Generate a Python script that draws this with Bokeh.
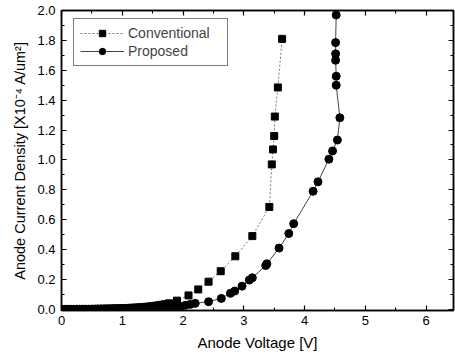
from bokeh.plotting import figure
from bokeh.models import Range1d, LinearAxis, NumeralTickFormatter, FixedTicker, Legend
from bokeh.embed import file_html
from bokeh.resources import INLINE

# Conventional device (squares)
conv_v = [0.05, 0.10, 0.15, 0.20, 0.25, 0.30, 0.35, 0.40, 0.45, 0.50,
          0.55, 0.60, 0.65, 0.70, 0.75, 0.80, 0.85, 0.90, 0.95, 1.00,
          1.05, 1.10, 1.15, 1.20, 1.25, 1.30, 1.35, 1.40, 1.45, 1.50,
          1.55, 1.60, 1.65, 1.70, 1.77, 1.90, 2.09, 2.25, 2.42, 2.62,
          2.86, 3.14, 3.42, 3.46, 3.48, 3.50, 3.51, 3.56, 3.63]
conv_j = [0.000, 0.000, 0.001, 0.001, 0.001, 0.001, 0.002, 0.002, 0.002, 0.002,
          0.003, 0.003, 0.003, 0.004, 0.004, 0.005, 0.005, 0.006, 0.006, 0.007,
          0.008, 0.009, 0.010, 0.011, 0.012, 0.014, 0.015, 0.017, 0.019, 0.021,
          0.024, 0.027, 0.030, 0.034, 0.040, 0.058, 0.093, 0.133, 0.185, 0.255,
          0.355, 0.490, 0.685, 0.970, 1.070, 1.160, 1.290, 1.485, 1.810]

# Proposed device (circles)
prop_v = [0.05, 0.10, 0.15, 0.20, 0.25, 0.30, 0.35, 0.40, 0.45, 0.50,
          0.55, 0.60, 0.65, 0.70, 0.75, 0.80, 0.85, 0.90, 0.95, 1.00,
          1.05, 1.10, 1.15, 1.20, 1.25, 1.30, 1.35, 1.40, 1.45, 1.50,
          1.55, 1.60, 1.65, 1.70, 1.75, 1.80, 1.85, 1.90, 1.95, 2.04,
          2.12, 2.20, 2.42, 2.63, 2.78, 2.85, 2.97, 3.09, 3.14, 3.36,
          3.38, 3.58, 3.74, 3.82, 4.14, 4.22, 4.40, 4.46, 4.54, 4.58,
          4.52, 4.52, 4.51, 4.51, 4.51, 4.52]
prop_j = [0.000, 0.000, 0.000, 0.000, 0.001, 0.001, 0.001, 0.001, 0.001, 0.001,
          0.001, 0.002, 0.002, 0.002, 0.002, 0.002, 0.003, 0.003, 0.003, 0.003,
          0.004, 0.004, 0.004, 0.005, 0.005, 0.006, 0.006, 0.007, 0.007, 0.008,
          0.009, 0.010, 0.011, 0.012, 0.013, 0.014, 0.016, 0.018, 0.020, 0.027,
          0.033, 0.040, 0.051, 0.073, 0.107, 0.122, 0.155, 0.196, 0.211, 0.293,
          0.305, 0.410, 0.507, 0.573, 0.790, 0.853, 1.005, 1.060, 1.133, 1.282,
          1.500, 1.560, 1.667, 1.710, 1.785, 1.970]

x_ticks = [0, 1, 2, 3, 4, 5, 6]
y_ticks = [0.0, 0.2, 0.4, 0.6, 0.8, 1.0, 1.2, 1.4, 1.6, 1.8, 2.0]
x_minor = [0.5, 1.5, 2.5, 3.5, 4.5, 5.5]
y_minor = [0.1, 0.3, 0.5, 0.7, 0.9, 1.1, 1.3, 1.5, 1.7, 1.9]

FONT = "Liberation Sans"

p = figure(width=455, height=358, output_backend="svg", toolbar_location=None,
           x_range=Range1d(0, 6.45), y_range=Range1d(-0.008, 2.0),
           min_border_left=61, min_border_right=2, min_border_top=10, min_border_bottom=48)
p.xaxis.visible = False
p.yaxis.visible = False
p.grid.visible = False
p.outline_line_color = "black"
p.outline_line_width = 1.5

def style_axis(ax, labels=True):
    ax.axis_line_color = "black"
    ax.axis_line_width = 1.5
    ax.major_tick_in = 5
    ax.major_tick_out = 0
    ax.minor_tick_in = 3
    ax.minor_tick_out = 0
    ax.major_tick_line_color = "black"
    ax.minor_tick_line_color = "black"
    ax.major_tick_line_width = 1.2
    ax.minor_tick_line_width = 1
    ax.major_label_text_font = FONT
    ax.major_label_text_font_size = "13px" if labels else "0px"
    ax.major_label_text_color = "black"
    ax.axis_label_text_font = FONT
    ax.axis_label_text_font_size = "15px"
    ax.axis_label_text_font_style = "normal"
    ax.axis_label_text_color = "black"

xb = LinearAxis(ticker=FixedTicker(ticks=x_ticks, minor_ticks=x_minor),
                axis_label="Anode Voltage [V]")
style_axis(xb)
xb.major_label_standoff = 5
xb.axis_label_standoff = 6
p.add_layout(xb, "below")

yl = LinearAxis(ticker=FixedTicker(ticks=y_ticks, minor_ticks=y_minor),
                axis_label="Anode Current Density [X10\u207b\u2074 A/um\u00b2]",
                formatter=NumeralTickFormatter(format="0.0"))
style_axis(yl)
yl.axis_label_text_font_size = "14.5px"
yl.major_label_standoff = 6
yl.axis_label_standoff = 6
p.add_layout(yl, "left")

xt = LinearAxis(ticker=FixedTicker(ticks=x_ticks, minor_ticks=x_minor))
style_axis(xt, labels=False)
xt.major_label_standoff = 0
p.add_layout(xt, "above")

yr = LinearAxis(ticker=FixedTicker(ticks=y_ticks, minor_ticks=y_minor))
style_axis(yr, labels=False)
yr.major_label_standoff = 0
p.add_layout(yr, "right")

l1 = p.line(conv_v, conv_j, line_color="#777777", line_width=1, line_dash="2 2")
m1 = p.scatter(conv_v, conv_j, marker="square", size=7, fill_color="black", line_color="black")
l2 = p.line(prop_v, prop_j, line_color="#444444", line_width=1)
m2 = p.scatter(prop_v, prop_j, marker="circle", size=8, fill_color="black", line_color="black")

legend = Legend(items=[("Conventional", [l1, m1]), ("Proposed", [l2, m2])],
                location=(12, 244), margin=0, padding=6, spacing=2,
                glyph_width=44, glyph_height=16, label_standoff=4, label_width=93,
                label_text_font=FONT, label_text_font_size="14px",
                border_line_color="black", border_line_width=1,
                background_fill_color="white", background_fill_alpha=1)
p.add_layout(legend, "center")

open("out.html", "w").write(file_html(p, INLINE))
